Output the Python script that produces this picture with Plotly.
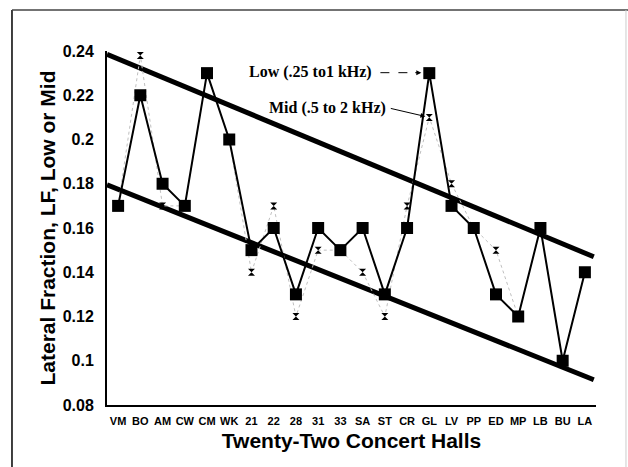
import plotly.graph_objects as go

halls = ["VM", "BO", "AM", "CW", "CM", "WK", "21", "22", "28", "31", "33",
         "SA", "ST", "CR", "GL", "LV", "PP", "ED", "MP", "LB", "BU", "LA"]
lf_low = [0.17, 0.22, 0.18, 0.17, 0.23, 0.20, 0.15, 0.16, 0.13, 0.16, 0.15,
          0.16, 0.13, 0.16, 0.23, 0.17, 0.16, 0.13, 0.12, 0.16, 0.10, 0.14]
lf_mid = [0.17, 0.238, 0.17, 0.17, 0.23, 0.20, 0.14, 0.17, 0.12, 0.15, 0.15,
          0.14, 0.12, 0.17, 0.21, 0.18, 0.16, 0.15, 0.12, 0.16, 0.10, 0.14]
upper_x = [-0.5, 21.4]
upper_y = [0.2385, 0.147]
lower_x = [-0.5, 21.4]
lower_y = [0.1795, 0.0914]
yticks = [0.08, 0.1, 0.12, 0.14, 0.16, 0.18, 0.2, 0.22, 0.24]
ytick_text = ["0.08", "0.1", "0.12", "0.14", "0.16", "0.18", "0.2", "0.22", "0.24"]

idx = list(range(len(halls)))

fig = go.Figure()
fig.add_trace(go.Scatter(x=upper_x, y=upper_y, mode="lines",
                         line=dict(color="black", width=5), showlegend=False))
fig.add_trace(go.Scatter(x=lower_x, y=lower_y, mode="lines",
                         line=dict(color="black", width=5), showlegend=False))
fig.add_trace(go.Scatter(x=idx, y=lf_mid, mode="lines+markers",
                         line=dict(color="#c0c0c0", width=1, dash="dot"),
                         marker=dict(symbol="hourglass", size=7, color="black"),
                         showlegend=False))
fig.add_trace(go.Scatter(x=idx, y=lf_low, mode="lines+markers",
                         line=dict(color="black", width=2),
                         marker=dict(symbol="square", size=12, color="black"),
                         showlegend=False))

ann_font = dict(family="Liberation Serif", size=16, color="black", weight="bold")
fig.add_annotation(x=11.51, y=0.2305, text="Low (.25 to1 kHz)", showarrow=False,
                   xanchor="right", yanchor="middle", font=ann_font)
fig.add_annotation(x=12.14, y=0.2142, text="Mid (.5 to 2 kHz)", showarrow=False,
                   xanchor="right", yanchor="middle", font=ann_font)
# dashed arrow for Low
fig.add_shape(type="line", xref="x", yref="y", x0=11.8, y0=0.2302, x1=13.4, y1=0.2302,
              line=dict(color="black", width=1, dash="dash"))
fig.add_annotation(x=14, y=0.2302, ax=13.3, ay=0.2302, axref="x", ayref="y", text="",
                   showarrow=True, arrowhead=2, arrowsize=1, arrowwidth=1,
                   arrowcolor="black", standoff=8)
fig.add_annotation(x=14, y=0.21, ax=12.2, ay=0.2142, axref="x", ayref="y", text="",
                   showarrow=True, arrowhead=2, arrowsize=1, arrowwidth=1,
                   arrowcolor="black", standoff=4)

# outer frame
fig.add_shape(type="line", xref="paper", yref="paper", x0=-0.1943, x1=-0.1943,
              y0=1.1158, y1=-0.2, line=dict(color="black", width=1.5))
fig.add_shape(type="line", xref="paper", yref="paper", x0=-0.1943, x1=1.07,
              y0=1.1158, y1=1.1158, line=dict(color="#444444", width=1.5))
fig.add_shape(type="line", xref="paper", yref="paper", x0=1.0613, x1=1.0613,
              y0=1.1158, y1=-0.2, line=dict(color="#cccccc", width=1))

fig.update_layout(
    width=628, height=467,
    margin=dict(l=107, r=32, t=51, b=62),
    paper_bgcolor="white", plot_bgcolor="white",
    font=dict(family="Liberation Sans", color="black"),
)
fig.update_xaxes(range=[-0.5, 21.5], tickmode="array", tickvals=idx, ticktext=halls,
                 tickfont=dict(size=11, family="Liberation Sans", weight="bold"),
                 showgrid=False, zeroline=False, showline=True, linecolor="black",
                 linewidth=2, ticks="", automargin=False, ticklabelstandoff=5,
                 title=dict(text="Twenty-Two Concert Halls",
                            font=dict(size=21, weight="bold"), standoff=7))
fig.update_yaxes(range=[0.08, 0.24], tickmode="array", tickvals=yticks, ticktext=ytick_text,
                 tickfont=dict(size=16, family="Liberation Sans", weight="bold"),
                 showgrid=False, zeroline=False, showline=True, linecolor="black",
                 linewidth=2, ticks="", automargin=False, ticklabelstandoff=8,
                 title=dict(text="Lateral Fraction, LF, Low or Mid",
                            font=dict(size=21, weight="bold"), standoff=1))

fig.write_html("out.html", post_script="document.body.style.margin='0';",
               config={"displayModeBar": False})
